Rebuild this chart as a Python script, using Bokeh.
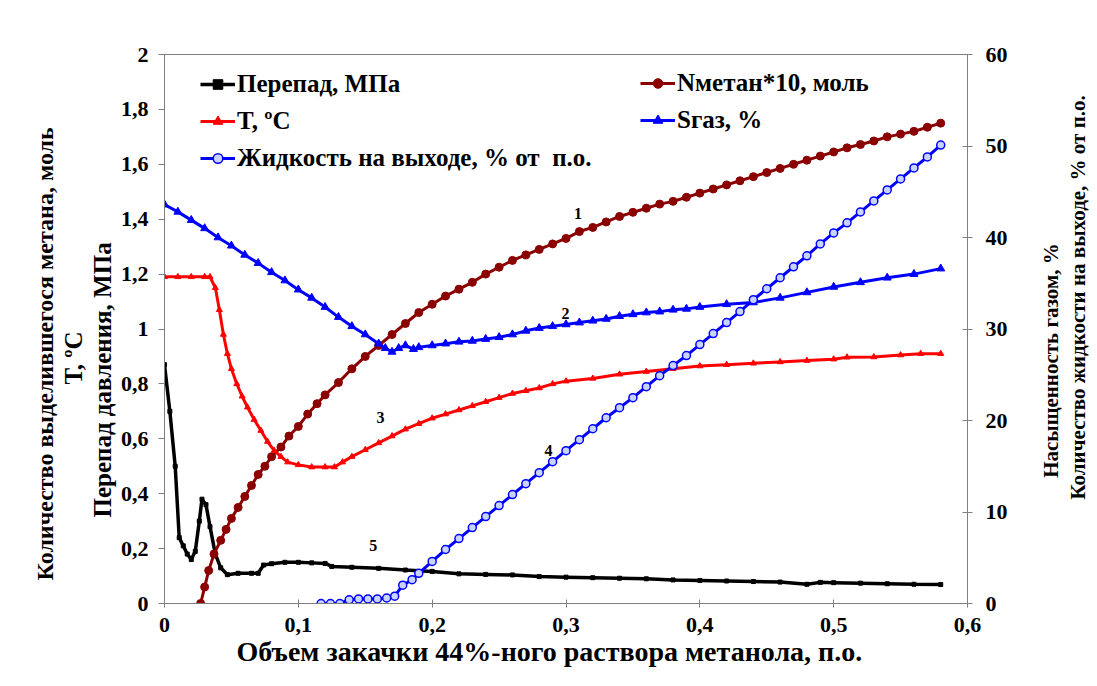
import math
from bokeh.plotting import figure
from bokeh.layouts import row
from bokeh.models import (Range1d, LinearAxis, Label, Legend, LegendItem, Title,
                          CustomJSTickFormatter, FixedTicker)
from bokeh.embed import file_html
from bokeh.resources import INLINE

# ---------------- data ----------------
x_ticks = [0, 0.1, 0.2, 0.3, 0.4, 0.5, 0.6]
left_ticks = [0, 0.2, 0.4, 0.6, 0.8, 1.0, 1.2, 1.4, 1.6, 1.8, 2.0]
right_ticks = [0, 10, 20, 30, 40, 50, 60]

# 5: Перепад, МПа (left axis)
perepad_x = [0, 0.004, 0.008, 0.011, 0.014, 0.017, 0.020, 0.023, 0.026, 0.028,
             0.031, 0.034, 0.038, 0.042, 0.047, 0.055, 0.065, 0.070, 0.074, 0.08,
             0.09, 0.10, 0.11, 0.12, 0.125, 0.14, 0.16, 0.18, 0.20, 0.22,
             0.24, 0.26, 0.28, 0.30, 0.32, 0.34, 0.36, 0.38, 0.40, 0.42,
             0.44, 0.46, 0.48, 0.49, 0.50, 0.52, 0.54, 0.56, 0.58]
perepad_y = [0.87, 0.70, 0.50, 0.24, 0.21, 0.18, 0.16, 0.19, 0.30, 0.38,
             0.36, 0.28, 0.18, 0.13, 0.105, 0.11, 0.11, 0.11, 0.14, 0.145,
             0.15, 0.15, 0.148, 0.146, 0.135, 0.132, 0.128, 0.122, 0.117, 0.108,
             0.106, 0.104, 0.098, 0.096, 0.094, 0.092, 0.09, 0.086, 0.084, 0.082,
             0.08, 0.078, 0.07, 0.077, 0.076, 0.074, 0.072, 0.07, 0.069]

# 1: Nметан*10, моль (left axis)
nmetan_x = [0.027, 0.030, 0.033, 0.037, 0.042, 0.046, 0.050, 0.055, 0.060, 0.065,
            0.070, 0.075, 0.080, 0.087, 0.093, 0.10, 0.107, 0.114, 0.12,
            0.13, 0.14, 0.15, 0.16, 0.17, 0.18, 0.19, 0.20,
            0.21, 0.22, 0.23, 0.24, 0.25, 0.26, 0.27, 0.28, 0.29, 0.30,
            0.31, 0.32, 0.33, 0.34, 0.35, 0.36, 0.37, 0.38, 0.39, 0.40,
            0.41, 0.42, 0.43, 0.44, 0.45, 0.46, 0.47, 0.48, 0.49, 0.50,
            0.51, 0.52, 0.53, 0.54, 0.55, 0.56, 0.57, 0.58]
nmetan_y = [0, 0.06, 0.12, 0.18, 0.23, 0.27, 0.31, 0.35, 0.39, 0.43,
            0.47, 0.50, 0.535, 0.57, 0.61, 0.645, 0.69, 0.728, 0.76,
            0.805, 0.855, 0.90, 0.94, 0.98, 1.02, 1.06, 1.09,
            1.12, 1.145, 1.17, 1.20, 1.225, 1.25, 1.27, 1.29, 1.31, 1.33,
            1.355, 1.37, 1.39, 1.41, 1.425, 1.44, 1.455, 1.465, 1.48, 1.495,
            1.51, 1.525, 1.54, 1.555, 1.57, 1.585, 1.60, 1.615, 1.63, 1.645,
            1.66, 1.672, 1.685, 1.70, 1.71, 1.72, 1.735, 1.75]

# 3: T, oC (left axis)
temp_x = [0, 0.01, 0.02, 0.03, 0.034, 0.038, 0.041, 0.044, 0.047, 0.050,
          0.054, 0.058, 0.062, 0.067, 0.072, 0.077, 0.082, 0.087, 0.092, 0.10,
          0.11, 0.12, 0.127, 0.133, 0.14, 0.15, 0.16, 0.17, 0.18, 0.19,
          0.20, 0.21, 0.22, 0.23, 0.24, 0.25, 0.26, 0.27, 0.28, 0.29, 0.30,
          0.32, 0.34, 0.36, 0.38, 0.40, 0.42, 0.44, 0.46, 0.48, 0.50,
          0.51, 0.53, 0.55, 0.565, 0.58]
temp_y = [1.19, 1.19, 1.19, 1.19, 1.19, 1.15, 1.07, 0.98, 0.91, 0.855,
          0.80, 0.755, 0.715, 0.67, 0.63, 0.59, 0.557, 0.535, 0.515, 0.505,
          0.497, 0.497, 0.497, 0.515, 0.535, 0.56, 0.585, 0.61, 0.635, 0.655,
          0.675, 0.69, 0.705, 0.72, 0.735, 0.75, 0.765, 0.775, 0.785, 0.80, 0.81,
          0.82, 0.835, 0.845, 0.855, 0.865, 0.87, 0.875, 0.88, 0.885, 0.89,
          0.897, 0.898, 0.905, 0.91, 0.91]

# 2: Sгаз, % (right axis)
sgaz_x = [0, 0.01, 0.02, 0.03, 0.04, 0.05, 0.06, 0.07, 0.08, 0.09,
          0.10, 0.11, 0.12, 0.13, 0.14, 0.15, 0.16,
          0.165, 0.17, 0.175, 0.18, 0.186, 0.19,
          0.20, 0.21, 0.22, 0.23, 0.24, 0.25, 0.26, 0.27, 0.28, 0.29, 0.30,
          0.31, 0.32, 0.33, 0.34, 0.35, 0.36, 0.37, 0.38, 0.39, 0.40,
          0.42, 0.44, 0.46, 0.48, 0.50, 0.52, 0.54, 0.56, 0.58]
sgaz_y = [43.6, 42.8, 41.9, 41.0, 40.0, 39.1, 38.1, 37.2, 36.2, 35.3,
          34.3, 33.4, 32.4, 31.3, 30.3, 29.4, 28.4,
          27.9, 27.5, 27.9, 28.2, 27.8, 28.0,
          28.2, 28.4, 28.6, 28.7, 28.9, 29.1, 29.4, 29.8, 30.1, 30.3, 30.5,
          30.7, 30.9, 31.1, 31.4, 31.6, 31.8, 31.9, 32.1, 32.2, 32.4,
          32.7, 32.9, 33.4, 34.0, 34.6, 35.1, 35.6, 36.0, 36.6]

# 4: Жидкость на выходе, % от п.о. (right axis)
liquid_x = [0.117, 0.124, 0.131, 0.138, 0.145, 0.152, 0.159, 0.166, 0.172, 0.178,
            0.185, 0.19,
            0.20, 0.21, 0.22, 0.23, 0.24, 0.25, 0.26, 0.27, 0.28, 0.29, 0.30,
            0.31, 0.32, 0.33, 0.34, 0.35, 0.36, 0.37, 0.38, 0.39, 0.40,
            0.41, 0.42, 0.43, 0.44, 0.45, 0.46, 0.47, 0.48, 0.49, 0.50,
            0.51, 0.52, 0.53, 0.54, 0.55, 0.56, 0.57, 0.58]
liquid_y = [0, 0, 0, 0.4, 0.5, 0.5, 0.5, 0.6, 0.8, 2.0,
            2.6, 3.3,
            4.6, 5.9, 7.1, 8.3, 9.5, 10.7, 11.9, 13.1, 14.3, 15.5, 16.7,
            17.9, 19.1, 20.3, 21.4, 22.5, 23.7, 24.9, 26.0, 27.1, 28.3,
            29.5, 30.7, 31.9, 33.2, 34.4, 35.6, 36.8, 38.0, 39.3, 40.5,
            41.6, 42.8, 44.0, 45.2, 46.4, 47.6, 48.8, 50.1]

curve_numbers = ["1", "2", "3", "4", "5"]
curve_number_pos = [(0.309, 1.42), (0.2996, 1.056), (0.1614, 0.676),
                    (0.2869, 0.557), (0.156, 0.211)]

# ---------------- styling ----------------
FONT = "Liberation Serif"
DARKRED = "#8B0000"
RED = "#FF0000"
BLUE = "#0000FF"
AX = "#7f7f7f"
TICK_FS = "22px"
H = 678

p = figure(frame_width=803, frame_height=549, output_backend="svg",
           toolbar_location=None, x_range=Range1d(0, 0.6), y_range=Range1d(0, 2),
           min_border_left=164, min_border_right=44, min_border_top=54,
           min_border_bottom=75, background_fill_color="white",
           border_fill_color="white")
p.extra_y_ranges = {"right": Range1d(0, 60)}
p.grid.visible = False
p.outline_line_color = AX

fmt = CustomJSTickFormatter(code="return tick.toFixed(1).replace(/\\.0$/, '').replace('.', ',');")

for ax in (p.xaxis[0], p.yaxis[0]):
    ax.axis_line_color = AX
    ax.major_tick_line_color = AX
    ax.minor_tick_line_color = None
    ax.major_label_text_font = FONT
    ax.major_label_text_font_style = "bold"
    ax.major_label_text_font_size = TICK_FS
    ax.major_label_text_color = "black"
    ax.formatter = fmt

p.xaxis.ticker = FixedTicker(ticks=x_ticks)
p.xaxis.major_tick_in = 4
p.xaxis.major_tick_out = 4
p.xaxis.major_label_standoff = 10

p.yaxis.ticker = FixedTicker(ticks=left_ticks)
p.yaxis.major_tick_in = 0
p.yaxis.major_tick_out = 6
p.yaxis.major_label_standoff = 10

ry = LinearAxis(y_range_name="right", ticker=FixedTicker(ticks=right_ticks))
ry.axis_line_color = AX
ry.major_tick_line_color = AX
ry.minor_tick_line_color = None
ry.major_tick_in = 5
ry.major_tick_out = 5
ry.major_label_standoff = 13
ry.major_label_text_font = FONT
ry.major_label_text_font_style = "bold"
ry.major_label_text_font_size = TICK_FS
ry.major_label_text_color = "black"
p.add_layout(ry, "right")

# ---------------- x title ----------------
p.add_layout(Title(text="Объем закачки 44%-ного раствора метанола, п.о.",
                   align="left", offset=72, standoff=0, vertical_align="middle",
                   text_font=FONT, text_font_style="bold", text_font_size="28px",
                   text_color="black"), "below")

# ---------------- left titles (stacked outward from the axis) ----------------
left_titles = [("Перепад давления, МПа", 86, 1, "25px"),
               ("Т, ºС", 219, 0, "25px"),
               ("Количество выделившегося метана, моль", 23, 0, "24px")]
for txt, off, sto, fs in left_titles:
    p.add_layout(Title(text=txt, align="left", offset=off, standoff=sto,
                       vertical_align="middle", text_font=FONT,
                       text_font_style="bold", text_font_size=fs,
                       text_color="black"), "left")

# ---------------- series ----------------
l_per = p.line(perepad_x, perepad_y, line_color="black", line_width=3.5)
s_per = p.scatter(perepad_x, perepad_y, marker="square", size=4, color="black")

l_nm = p.line(nmetan_x, nmetan_y, line_color=DARKRED, line_width=3)
s_nm = p.scatter(nmetan_x, nmetan_y, marker="circle", size=8, color=DARKRED)

l_t = p.line(temp_x, temp_y, line_color=RED, line_width=3)
s_t = p.scatter(temp_x, temp_y, marker="triangle", size=6, color=RED)

l_sg = p.line(sgaz_x, sgaz_y, line_color=BLUE, line_width=3, y_range_name="right")
s_sg = p.scatter(sgaz_x, sgaz_y, marker="triangle", size=8, color=BLUE,
                 y_range_name="right")

l_lq = p.line(liquid_x, liquid_y, line_color=BLUE, line_width=3, y_range_name="right")
s_lq = p.scatter(liquid_x, liquid_y, marker="circle", size=8, line_color=BLUE,
                 fill_color="#c8d4ff", line_width=1.5, y_range_name="right")

# ---------------- legends ----------------
def make_legend(items, loc):
    lg = Legend(items=items, location=loc, orientation="vertical")
    lg.label_text_font = FONT
    lg.label_text_font_style = "bold"
    lg.label_text_font_size = "25px"
    lg.label_text_color = "black"
    lg.glyph_width = 35
    lg.glyph_height = 24
    lg.label_height = 24
    lg.spacing = 9
    lg.padding = 0
    lg.margin = 0
    lg.label_standoff = 2
    lg.border_line_color = None
    lg.background_fill_alpha = 0
    return lg

leg1 = make_legend([LegendItem(label="Перепад, МПа", renderers=[l_per, s_per]),
                    LegendItem(label="T, ºC", renderers=[l_t, s_t]),
                    LegendItem(label="Жидкость на выходе, % от  п.о.", renderers=[l_lq, s_lq])],
                   (36, 431))
leg2 = make_legend([LegendItem(label="Nметан*10, моль", renderers=[l_nm, s_nm]),
                    LegendItem(label="Sгаз, %", renderers=[l_sg, s_sg])],
                   (476, 469))
p.add_layout(leg1)
p.add_layout(leg2)

# ---------------- curve numbers ----------------
for txt, (cx, cy) in zip(curve_numbers, curve_number_pos):
    p.add_layout(Label(x=cx, y=cy, text=txt, text_font=FONT, text_font_style="bold",
                       text_font_size="16px", text_align="center",
                       text_baseline="middle", text_color="black"))

# ---------------- right titles: a narrow strip figure beside the chart ----------------
strip = figure(width=84, height=H, x_range=Range1d(0, 84), y_range=Range1d(H, 0),
               min_border=0, x_axis_location=None, y_axis_location=None,
               toolbar_location=None, output_backend="svg",
               outline_line_color=None, background_fill_color="white",
               border_fill_color="white")
strip.grid.visible = False
right_titles = [("Насыщенность газом, %", 39, 378),
                ("Количество жидкости на выходе, % от п.о.", 66, 300)]
for txt, cx, cy in right_titles:
    strip.add_layout(Label(x=cx, y=cy, text=txt, angle=math.pi / 2, text_font=FONT,
                           text_font_style="bold", text_font_size="21px",
                           text_align="center", text_baseline="middle",
                           text_color="black"))

layout = row(p, strip)
open("out.html", "w").write(file_html(layout, INLINE))
